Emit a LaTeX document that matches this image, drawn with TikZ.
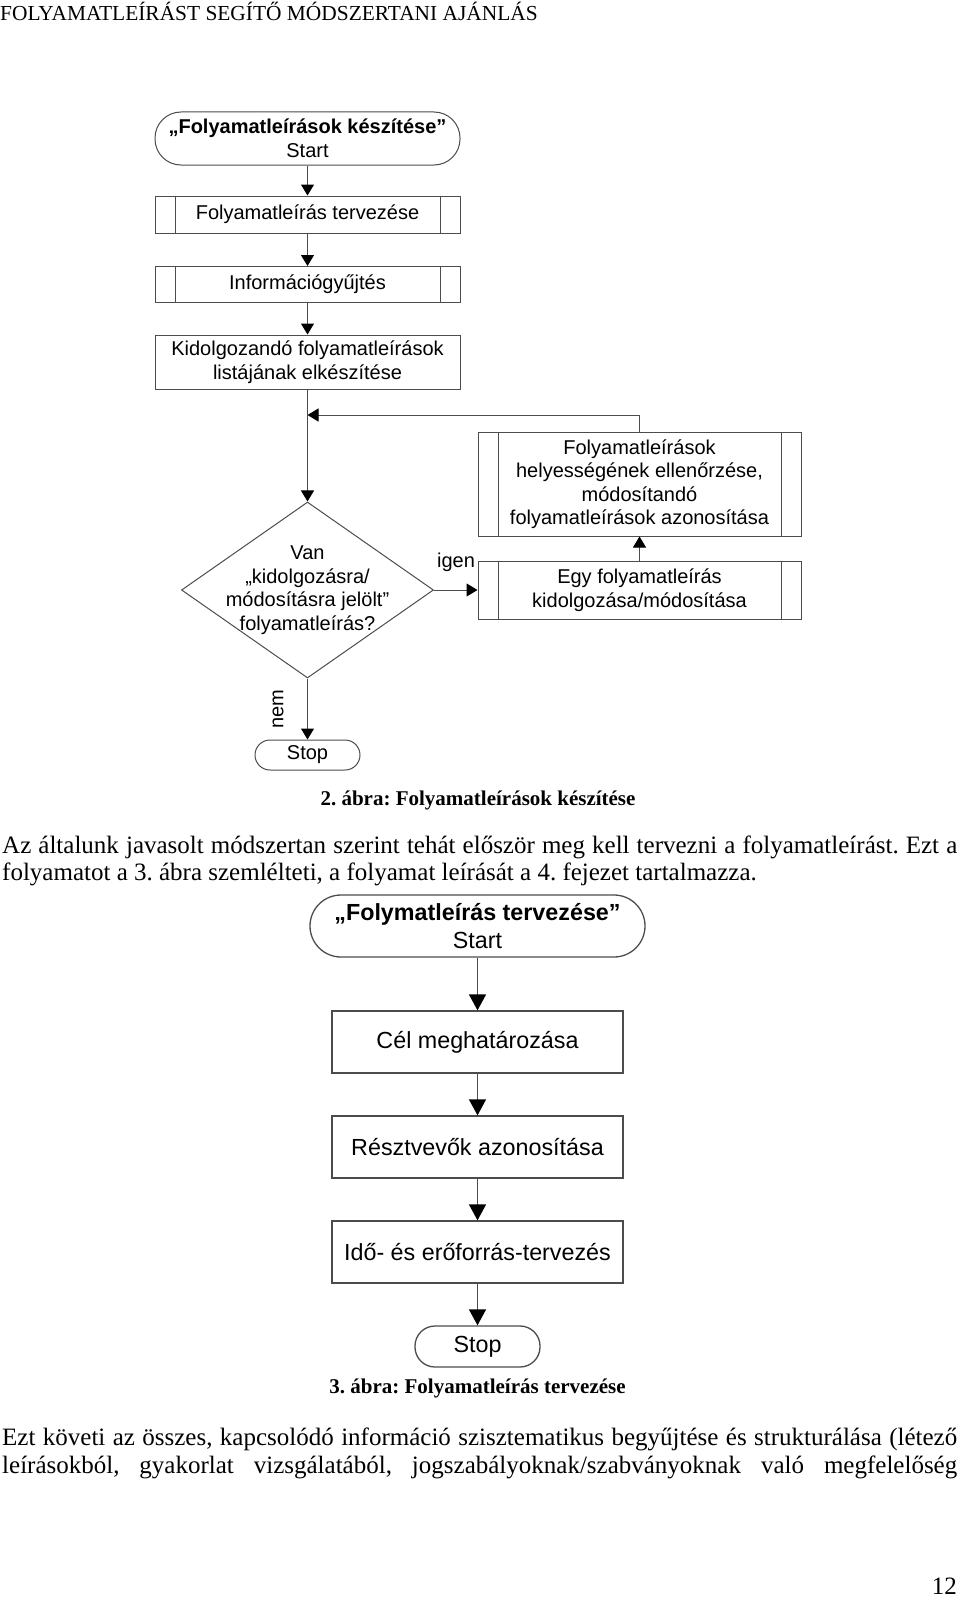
\documentclass[tikz,border=0pt]{standalone}
\usepackage{fontspec}
\setmainfont{Liberation Serif}
\newfontfamily\arial{Liberation Sans}
\usetikzlibrary{shapes.geometric, arrows.meta, positioning}
\tikzstyle{every node}=[inner sep=0pt]
\tikzstyle{lab}=[font=\arial\fontsize{20}{23.5}\selectfont, align=center]
\tikzstyle{labb}=[font=\arial\fontsize{23.3}{28.5}\selectfont, align=center]
\tikzstyle{box}=[draw=black!70, line width=1pt]
\tikzstyle{boxb}=[draw=black!70, line width=1.3pt]
\tikzstyle{sub}=[box, path picture={\draw[black!70, line width=1pt]
    ([xshift=20pt]path picture bounding box.north west) -- ([xshift=20pt]path picture bounding box.south west)
    ([xshift=-20pt]path picture bounding box.north east) -- ([xshift=-20pt]path picture bounding box.south east);}]
\tikzstyle{dec}=[diamond, box, minimum width=252pt, minimum height=176pt]
\tikzstyle{body}=[font=\frenchspacing\fontsize{25}{27.5}\selectfont, anchor=base west]
\tikzstyle{capt}=[font=\frenchspacing\bfseries\fontsize{21}{25}\selectfont, anchor=base]
\tikzstyle{arr}=[-{Triangle[width=13pt,length=11pt,color=black]}, draw=black!70, line width=1pt]
\tikzstyle{arrb}=[-{Triangle[width=17pt,length=16pt,color=black]}, draw=black!70, line width=1.3pt]

\begin{document}
\begin{tikzpicture}[x=1pt, y=-1pt]
    \useasboundingbox (0,0) rectangle (960,1600);
    \node[body, font=\fontsize{21.4}{25}\selectfont] (H) at (0,21) {FOLYAMATLEÍRÁST SEGÍTŐ MÓDSZERTANI AJÁNLÁS};

    \node[box, lab, minimum width=305pt, minimum height=53pt, rounded corners=26pt] (S1) at (307.5,138.5) {\textbf{„Folyamatleírások készítése”}\\Start};
    \node[sub, lab, minimum width=305pt, minimum height=37pt, node distance=76pt] (P1) [below of=S1] {Folyamatleírás tervezése};
    \node[sub, lab, minimum width=305pt, minimum height=36pt, node distance=70pt] (P2) [below of=P1] {Információgyűjtés};
    \node[box, lab, minimum width=305pt, minimum height=54pt, node distance=77.5pt] (P3) [below of=P2] {Kidolgozandó folyamatleírások\\listájának elkészítése};
    \node[dec, node distance=228pt] (D) [below of=P3] {};
    \node[lab] (DT) at (D.center) {Van\\„kidolgozásra/\\módosításra jelölt”\\folyamatleírás?};
    \node[box, lab, minimum width=105pt, minimum height=30pt, rounded corners=15pt, node distance=165pt] (T1) [below of=D] {Stop};
    \node[sub, lab, minimum width=323pt, minimum height=58pt, node distance=332pt] (E) [right of=D] {Egy folyamatleírás\\kidolgozása/módosítása};
    \node[sub, lab, minimum width=323pt, minimum height=104pt, node distance=106pt] (F) [above of=E] {Folyamatleírások\\helyességének ellenőrzése,\\módosítandó\\folyamatleírások azonosítása};
    \coordinate (J) at (307.5,415);
    \node[lab] (Y) at (456,562) {igen};
    \node[lab, rotate=90] (N) at (278,709) {nem};
    \draw[arr] (S1) -- (P1);
    \draw[arr] (P1) -- (P2);
    \draw[arr] (P2) -- (P3);
    \draw[arr] (P3) -- (D);
    \draw[arr] (D) -- (E);
    \draw[arr] (E) -- (F);
    \draw[arr] (F.north) |- (J);
    \draw[arr] (D) -- (T1);
    \node[capt] (C1) at (478,805) {2. ábra: Folyamatleírások készítése};

    \node[body] (A1) at (2,853) {\makebox[955pt][s]{Az általunk javasolt módszertan szerint tehát először meg kell tervezni a folyamatleírást. Ezt a}};
    \node[body] (A2) at (2,880) {folyamatot a 3. ábra szemlélteti, a folyamat leírását a 4. fejezet tartalmazza.};

    \node[boxb, labb, minimum width=335pt, minimum height=62pt, rounded corners=31pt] (S2) at (477.5,926) {\textbf{„Folymatleírás tervezése”}\\Start};
    \node[boxb, labb, minimum width=291pt, minimum height=62pt, node distance=116pt] (G) [below of=S2] {Cél meghatározása};
    \node[boxb, labb, minimum width=291pt, minimum height=62pt, node distance=105pt] (R) [below of=G] {Résztvevők azonosítása};
    \node[boxb, labb, minimum width=291pt, minimum height=62pt, node distance=105pt] (I) [below of=R] {Idő- és erőforrás-tervezés};
    \node[boxb, labb, minimum width=125pt, minimum height=41pt, rounded corners=20pt, node distance=94.5pt] (T2) [below of=I] {Stop};
    \draw[arrb] (S2) -- (G);
    \draw[arrb] (G) -- (R);
    \draw[arrb] (R) -- (I);
    \draw[arrb] (I) -- (T2);
    \node[capt] (C2) at (477.5,1393) {3. ábra: Folyamatleírás tervezése};

    \node[body] (B1) at (2,1445) {\makebox[955pt][s]{Ezt követi az összes, kapcsolódó információ szisztematikus begyűjtése és strukturálása (létező}};
    \node[body] (B2) at (2,1473) {\makebox[955pt][s]{leírásokból, gyakorlat vizsgálatából, jogszabályoknak/szabványoknak való megfelelőség}};
    \node[body, anchor=base east] (PN) at (957,1594) {12};
\end{tikzpicture}
\end{document}
